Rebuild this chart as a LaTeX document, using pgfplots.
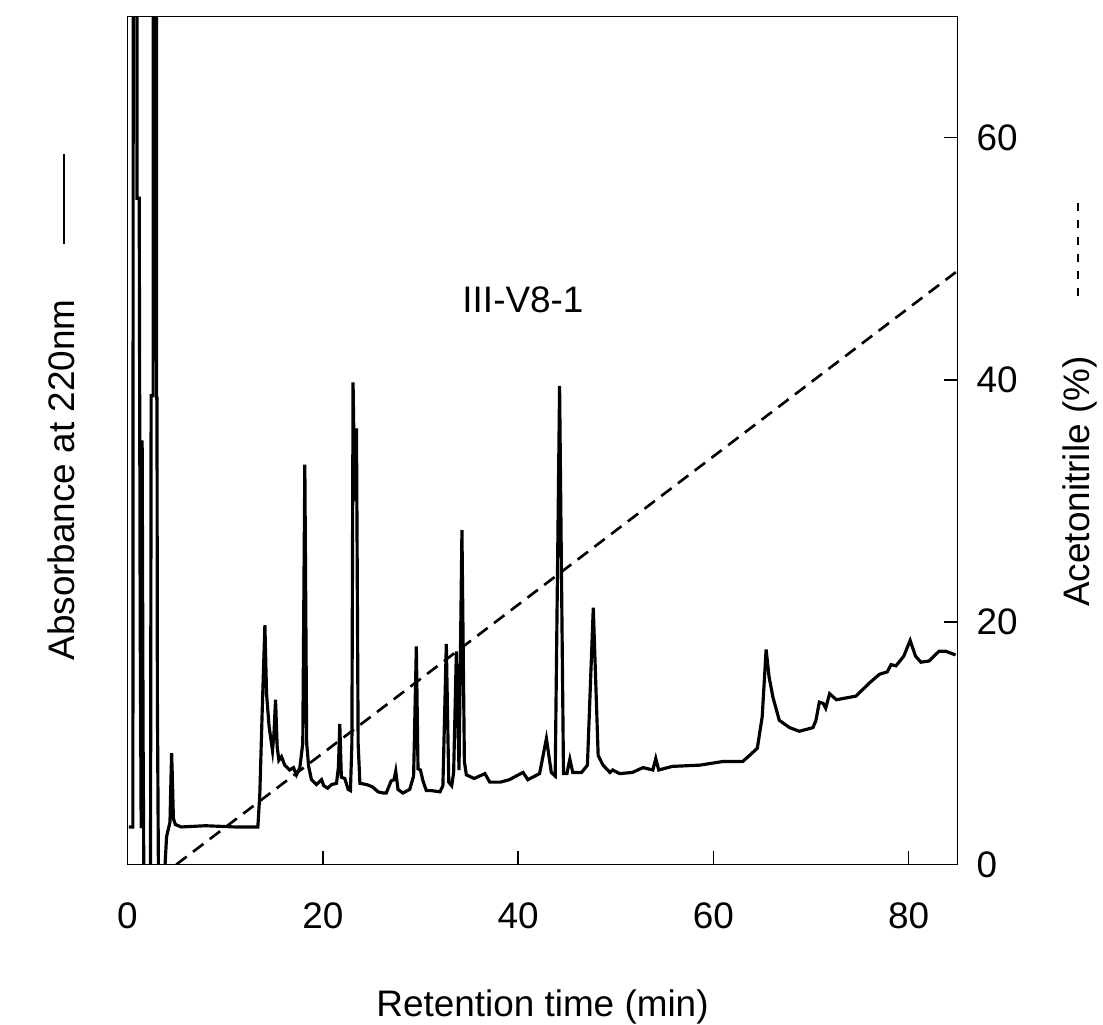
\documentclass[border=0pt]{standalone}
\usepackage{fontspec}
\setmainfont{Liberation Sans}
\usepackage{pgfplots}
\pgfplotsset{compat=1.18}
\usepackage{pgfplotstable}
\usetikzlibrary{calc}

% chromatogram trace, y in the same 0-70 units as the acetonitrile axis (absorbance is arbitrary)
\pgfplotstableread{
x y
0.15 3.1
0.55 3.1
0.60 95
0.95 95
0.98 55.0
1.20 55.0
1.30 20
1.40 3
1.50 35
1.60 10
1.70 -5
2.35 -5
2.42 38.7
2.62 38.7
2.66 95
2.95 95
2.98 38.5
3.02 38.5
3.06 13.8
3.20 -5
3.70 -5
3.85 0
4.00 2.3
4.15 2.8
4.35 3.5
4.45 7
4.52 9.2
4.60 7
4.70 3.8
4.90 3.3
5.50 3.1
8.00 3.2
11.0 3.1
13.35 3.1
13.55 5.8
13.80 12.8
14.07 19.75
14.24 14.1
14.50 11.4
14.85 9.4
15.00 10.8
15.16 13.6
15.33 9.7
15.50 8.6
15.77 8.9
16.10 8.2
16.60 7.8
17.00 8.0
17.30 7.4
17.65 8.0
17.95 10
18.16 33.0
18.35 10
18.55 8.1
18.84 7.0
19.35 6.6
19.87 7.0
20.10 6.5
20.50 6.3
20.90 6.6
21.40 6.7
21.60 8
21.74 11.6
21.90 7.2
22.25 7.1
22.60 6.2
22.83 6.1
22.98 10
23.10 39.8
23.28 30
23.45 36
23.62 10
23.80 6.7
24.50 6.6
25.10 6.4
25.66 6.0
26.20 5.9
26.50 5.9
27.00 6.9
27.30 7.0
27.47 7.7
27.70 6.2
28.20 5.9
28.90 6.2
29.30 7.3
29.58 18.0
29.75 7.9
30.00 7.8
30.26 6.9
30.60 6.1
31.10 6.1
32.00 6.0
32.30 6.5
32.65 18.2
32.90 6.8
33.20 6.5
33.40 7.6
33.68 17.6
33.95 7.8
34.25 27.6
34.50 8.5
34.70 7.4
35.50 7.1
36.60 7.5
37.10 6.8
38.20 6.8
39.10 7.0
40.50 7.6
41.00 7.0
42.20 7.5
42.90 10.4
43.40 7.6
43.80 7.3
44.25 39.5
44.65 7.5
45.00 7.5
45.30 8.7
45.60 7.6
46.50 7.6
47.10 8.2
47.70 21.2
48.20 9.0
48.70 8.2
49.40 7.6
49.70 7.8
50.40 7.5
51.70 7.6
52.80 8.0
53.80 7.8
54.10 8.75
54.40 7.8
55.80 8.1
58.60 8.2
60.95 8.5
62.30 8.5
63.00 8.5
63.70 9.0
64.50 9.6
65.00 12.2
65.40 17.75
65.70 15.5
66.10 13.8
66.75 11.9
67.80 11.3
68.80 11.0
70.20 11.3
70.50 11.9
70.85 13.4
71.25 13.3
71.50 12.9
71.90 14.1
72.60 13.6
74.60 13.9
76.00 15.0
77.00 15.7
77.80 15.9
78.20 16.5
78.70 16.4
79.50 17.2
80.15 18.5
80.70 17.2
81.25 16.7
82.10 16.8
83.10 17.6
83.80 17.6
84.80 17.3
}\trace

% acetonitrile gradient (%)
\pgfplotstableread{
x y
5 0
85 49
}\gradient

\begin{document}
\fontsize{10.5}{12.6}\selectfont
\begin{tikzpicture}
\begin{axis}[
  name=ax,
  width=8.3cm, height=8.48cm, scale only axis,
  xmin=0, xmax=85, ymin=0, ymax=70,
  xtick={0,20,40,60,80}, ytick={0,20,40,60},
  xtick pos=bottom, ytick pos=right, yticklabel pos=right,
  tick align=inside, major tick length=0.14cm,
  axis line style={line width=0.45pt},
  tick style={line width=0.45pt, black},
  /pgf/number format/assume math mode=true,
  xticklabel style={yshift=-0.255cm},
  yticklabel style={xshift=0.06cm},
  clip=true,
]
\addplot[black, line width=0.9pt] table[x=x, y=y] {\trace};
\addplot[black, line width=0.75pt, dash pattern=on 0.13cm off 0.08cm] table[x=x, y=y] {\gradient};
\node at (axis cs:40.5,46.6) {III-V8-1};
\end{axis}
\node[rotate=90, inner sep=0pt] at ([xshift=-0.66cm]$(ax.south west)!0.54!(ax.north west)$)
  {Absorbance at 220nm\hspace{0.55cm}\tikz[baseline=-0.55ex]\draw[line width=0.5pt] (0,0)--(0.9cm,0);};
\node[rotate=90, inner sep=0pt] at ([xshift=1.22cm]$(ax.south east)!0.547!(ax.north east)$)
  {Acetonitrile (\%)\hspace{0.6cm}\tikz[baseline=-0.55ex]\draw[line width=0.5pt, dash pattern=on 0.08cm off 0.09cm] (0,0)--(1.0cm,0);};
\node[anchor=base, inner sep=0pt] at ([yshift=-1.52cm]$(ax.south west)!0.5!(ax.south east)$) {Retention time (min)};
\path (ax.south west) ++(-1.275cm,-1.60cm) rectangle ++(11.03cm,10.245cm);
\end{tikzpicture}
\end{document}
